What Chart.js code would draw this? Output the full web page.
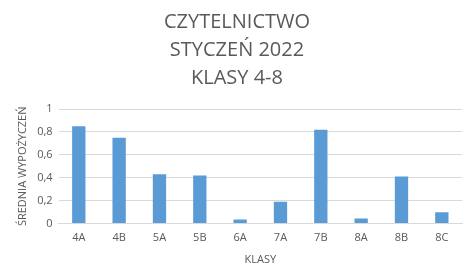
<!DOCTYPE html>
<html>
<head>
<meta charset="utf-8">
<script src="https://cdn.jsdelivr.net/npm/chart.js@4/dist/chart.umd.min.js"></script>
<style>
  body { margin: 0; background: #fff; }
  #wrap { width: 472px; height: 271px; }
</style>
</head>
<body>
<div id="wrap"><canvas id="chart"></canvas></div>
<script>
// categories and values
const classes = ["4A", "4B", "5A", "5B", "6A", "7A", "7B", "8A", "8B", "8C"];
const avgLoans = [0.85, 0.75, 0.43, 0.42, 0.035, 0.19, 0.82, 0.045, 0.41, 0.10];
const titleLines = ["CZYTELNICTWO", "STYCZEŃ 2022", "KLASY 4-8"];

const grey = '#595959';
const fontFamily = "'Open Sans', 'Noto Sans', sans-serif";

const chart = new Chart(document.getElementById('chart'), {
    type: 'bar',
    data: {
        labels: classes,
        datasets: [{
            data: avgLoans,
            backgroundColor: '#5B9BD5',
            categoryPercentage: 1,
            barPercentage: 0.33
        }]
    },
    options: {
        responsive: true,
        maintainAspectRatio: false,
        animation: false,
        layout: { padding: { left: 12, right: 10, top: 4, bottom: 3 } },
        plugins: {
            legend: { display: false },
            tooltip: { enabled: false },
            title: {
                display: true,
                text: titleLines,
                color: grey,
                font: { family: fontFamily, size: 20, weight: 'normal', lineHeight: 1.4 },
                padding: { top: 4, bottom: 17 }
            }
        },
        scales: {
            x: {
                grid: { display: false, drawTicks: false },
                border: { color: '#d9d9d9' },
                ticks: { color: grey, font: { family: fontFamily, size: 11 }, padding: 8 },
                title: { display: true, text: 'KLASY', color: grey, font: { family: fontFamily, size: 11 }, padding: { top: 0, bottom: 2 } }
            },
            y: {
                min: 0,
                max: 1,
                ticks: {
                    stepSize: 0.2,
                    color: grey,
                    font: { family: fontFamily, size: 11 },
                    padding: 6,
                    callback: v => String(Math.round(v * 10) / 10).replace('.', ',')
                },
                grid: { color: '#d9d9d9', drawTicks: false },
                border: { display: false },
                title: { display: true, text: 'ŚREDNIA WYPOŻYCZEŃ', color: grey, font: { family: fontFamily, size: 11 }, padding: { bottom: 2 } }
            }
        }
    }
});
</script>
</body>
</html>
